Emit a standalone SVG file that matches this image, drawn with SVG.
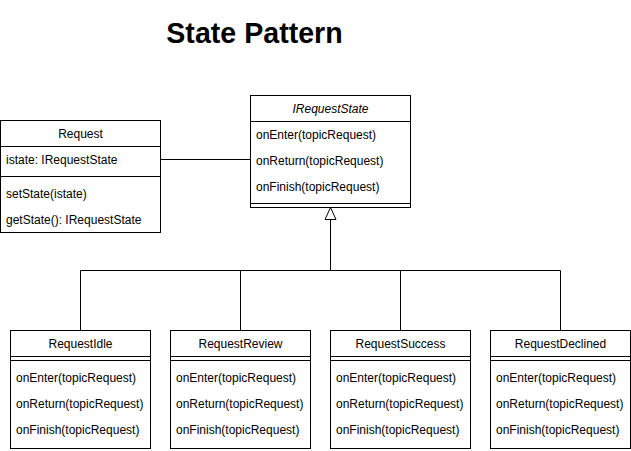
<svg xmlns="http://www.w3.org/2000/svg" width="631" height="451" viewBox="0 0 631 451">
<defs>
<style>
.box{fill:#fff;stroke:#000;stroke-width:1}
.ln{fill:none;stroke:#000;stroke-width:1}
text{font-family:"Liberation Sans",Arial,sans-serif;font-size:12px;fill:#000;dominant-baseline:central}
.c{text-anchor:middle}
.i{font-style:italic}
.title{font-size:28.6px;font-weight:bold;dominant-baseline:auto}
</style>
<marker id="tri" markerWidth="14" markerHeight="14" refX="13" refY="6.5" orient="auto" markerUnits="userSpaceOnUse">
<path d="M1,1 L13,6.5 L1,12 Z" fill="#fff" stroke="#000" stroke-width="1"/>
</marker>
</defs>
<rect width="631" height="451" fill="#fff"/>
<text class="title c" x="254.5" y="43">State Pattern</text>

<g id="connectors">
<path class="ln" d="M160.5,159.5 H250.5"/>
<path class="ln" d="M80.5,330.5 V270.5 H560.5 V330.5 M240.5,270.5 V330.5 M400.5,270.5 V330.5 M330.5,270.5 V207.5" marker-end="url(#tri)"/>
</g>

<g id="Request">
<rect class="box" x="0.5" y="120.5" width="160" height="112"/>
<path class="ln" d="M0.5,146.5 H160.5 M0.5,176.5 H160.5"/>
<text class="c" x="80.5" y="134">Request</text>
<text x="6" y="160">istate: IRequestState</text>
<text x="6" y="194">setState(istate)</text>
<text x="6" y="220">getState(): IRequestState</text>
</g>

<g id="IRequestState">
<rect class="box" x="250.5" y="95.5" width="160" height="112"/>
<path class="ln" d="M250.5,121.5 H410.5 M250.5,203.5 H410.5"/>
<text class="c i" x="330.5" y="109">IRequestState</text>
<text x="256" y="135">onEnter(topicRequest)</text>
<text x="256" y="161">onReturn(topicRequest)</text>
<text x="256" y="187">onFinish(topicRequest)</text>
</g>

<g id="RequestIdle">
<rect class="box" x="10.5" y="330.5" width="140" height="118"/>
<path class="ln" d="M10.5,356.5 H150.5 M10.5,360.5 H150.5"/>
<text class="c" x="80.5" y="344">RequestIdle</text>
<text x="16" y="378">onEnter(topicRequest)</text>
<text x="16" y="404">onReturn(topicRequest)</text>
<text x="16" y="430">onFinish(topicRequest)</text>
</g>

<g id="RequestReview">
<rect class="box" x="170.5" y="330.5" width="140" height="118"/>
<path class="ln" d="M170.5,356.5 H310.5 M170.5,360.5 H310.5"/>
<text class="c" x="240.5" y="344">RequestReview</text>
<text x="176" y="378">onEnter(topicRequest)</text>
<text x="176" y="404">onReturn(topicRequest)</text>
<text x="176" y="430">onFinish(topicRequest)</text>
</g>

<g id="RequestSuccess">
<rect class="box" x="330.5" y="330.5" width="140" height="118"/>
<path class="ln" d="M330.5,356.5 H470.5 M330.5,360.5 H470.5"/>
<text class="c" x="400.5" y="344">RequestSuccess</text>
<text x="336" y="378">onEnter(topicRequest)</text>
<text x="336" y="404">onReturn(topicRequest)</text>
<text x="336" y="430">onFinish(topicRequest)</text>
</g>

<g id="RequestDeclined">
<rect class="box" x="490.5" y="330.5" width="140" height="118"/>
<path class="ln" d="M490.5,356.5 H630.5 M490.5,360.5 H630.5"/>
<text class="c" x="560.5" y="344">RequestDeclined</text>
<text x="496" y="378">onEnter(topicRequest)</text>
<text x="496" y="404">onReturn(topicRequest)</text>
<text x="496" y="430">onFinish(topicRequest)</text>
</g>
</svg>
